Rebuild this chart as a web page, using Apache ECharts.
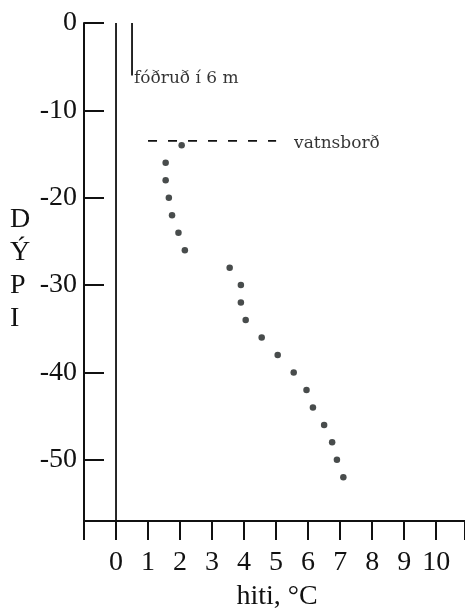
<!DOCTYPE html>
<html>
<head>
<meta charset="utf-8">
<script src="https://cdn.jsdelivr.net/npm/echarts@6/dist/echarts.min.js"></script>
<style>
  html, body { margin: 0; padding: 0; background: #fff; }
  #chart { width: 465px; height: 612px; }
</style>
</head>
<body>
<div id="chart"></div>
<script>
// hitamælingar í holu
const depths = [-14, -16, -18, -20, -22, -24, -26, -28, -30, -32, -34, -36, -38, -40, -42, -44, -46, -48, -50, -52];
const temps = [2.05, 1.55, 1.55, 1.65, 1.75, 1.95, 2.15, 3.55, 3.9, 3.9, 4.05, 4.55, 5.05, 5.55, 5.95, 6.15, 6.5, 6.75, 6.9, 7.1];
const xTicks = [0, 1, 2, 3, 4, 5, 6, 7, 8, 9, 10];
const yTicks = [0, -10, -20, -30, -40, -50];
const zeroLine = [[0, 0], [0, -57]];
const casing = [[0.5, 0], [0.5, -6]];
const waterLevel = [[1, -13.5], [5, -13.5]];
const casingText = 'fóðruð í 6 m';
const waterText = 'vatnsborð';
const xTitle = 'hiti, °C';
const yTitle = 'D\nÝ\nP\nI';

const font = "'Liberation Serif', serif";
const noteFont = "'DejaVu Serif', serif";
const ink = '#111';

const chart = echarts.init(document.getElementById('chart'));

const option = {
  animation: false,
  grid: { left: 84, right: 0, top: 23, bottom: 91 },
  xAxis: {
    type: 'value',
    min: -1,
    max: 10.9,
    interval: 1,
    axisLine: { show: true, onZero: false, lineStyle: { color: ink, width: 2 } },
    axisTick: { show: true, inside: false, length: 19, lineStyle: { color: ink, width: 2 } },
    axisLabel: { customValues: xTicks, margin: 28, fontFamily: font, fontSize: 28, color: ink },
    splitLine: { show: false }
  },
  yAxis: {
    type: 'value',
    min: -57,
    max: 0,
    axisLine: { show: true, onZero: false, lineStyle: { color: ink, width: 2 } },
    axisTick: { show: true, inside: true, length: 20, customValues: yTicks, lineStyle: { color: ink, width: 2 } },
    axisLabel: { customValues: yTicks, margin: 7, fontFamily: font, fontSize: 28, color: ink },
    splitLine: { show: false }
  },
  graphic: [{
    type: 'text',
    left: 10,
    top: 203,
    style: {
      text: yTitle,
      fontFamily: font,
      fontSize: 28,
      lineHeight: 33,
      align: 'center',
      fill: ink
    }
  }, {
    type: 'text',
    x: 277,
    y: 597,
    style: {
      text: xTitle,
      fontFamily: font,
      fontSize: 28,
      align: 'center',
      verticalAlign: 'middle',
      fill: ink
    }
  }],
  series: [{
    type: 'line',
    data: zeroLine,
    symbol: 'none',
    lineStyle: { color: ink, width: 1.8 }
  }, {
    type: 'line',
    data: casing,
    symbol: 'none',
    lineStyle: { color: ink, width: 1.8 }
  }, {
    type: 'line',
    data: waterLevel,
    symbol: 'none',
    lineStyle: { color: ink, width: 1.8, type: [9, 11] }
  }, {
    type: 'scatter',
    data: [casing[1], waterLevel[1]],
    symbolSize: 0,
    label: {
      show: true,
      position: 'right',
      fontFamily: noteFont,
      fontSize: 17,
      color: '#000',
      formatter: function (p) {
        return p.dataIndex === 0 ? casingText : waterText;
      }
    },
    labelLayout: function (params) {
      return params.dataIndex === 0
        ? { dx: -3, dy: 3 }
        : { dx: 13, dy: 3 };
    }
  }, {
    type: 'scatter',
    data: temps.map(function (t, i) { return [t, depths[i]]; }),
    symbolSize: 6.5,
    itemStyle: { color: '#1a1f1f' }
  }]
};

chart.setOption(option);
</script>
</body>
</html>
